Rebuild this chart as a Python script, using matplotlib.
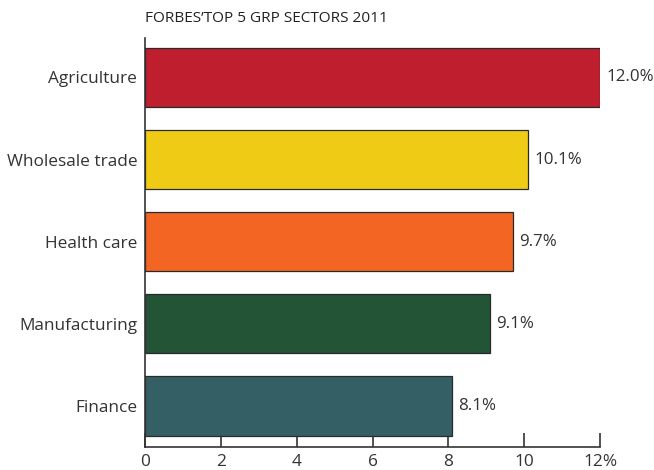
import matplotlib
matplotlib.use("Agg")
import matplotlib.pyplot as plt

categories = ["Agriculture", "Wholesale trade", "Health care", "Manufacturing", "Finance"]
values = [12.0, 10.1, 9.7, 9.1, 8.1]
colors = ["#BE1E2D", "#EFCB16", "#F26522", "#235436", "#335F65"]
xticks = [0, 2, 4, 6, 8, 10, 12]
xticklabels = ["0", "2", "4", "6", "8", "10", "12%"]
title = "FORBES\u2019TOP 5 GRP SECTORS 2011"

plt.rcParams["font.family"] = ["Open Sans", "DejaVu Sans"]
txt = "#333333"

fig = plt.figure(figsize=(6.54, 4.70), dpi=100)
ax = fig.add_axes([145/654, 1-447/470, (600-145)/654, (447-38)/470])

n = len(categories)
ypos = list(range(n))[::-1]
ax.barh(ypos, values, height=0.72, color=colors, edgecolor="#2a2a2a", linewidth=0.9, zorder=2)
for y, v in zip(ypos, values):
    ax.text(v + 0.17, y, f"{v:.1f}%", va="center", ha="left", fontsize=12.2, color=txt)

ax.set_xlim(0, 12)
ax.set_ylim(-0.5, 4.48)
ax.set_yticks(ypos)
ax.set_yticklabels(categories, fontsize=12.4, color=txt)
ax.set_xticks(xticks)
ax.set_xticklabels(xticklabels, fontsize=12.4, color=txt)
ax.tick_params(axis="y", length=0, pad=5.5)
ax.tick_params(axis="x", direction="in", length=10, width=1.2, color="#333333", pad=5)
for s in ["top", "right"]:
    ax.spines[s].set_visible(False)
ax.spines["left"].set_color("#333333")
ax.spines["left"].set_linewidth(1.2)
ax.spines["bottom"].set_color("#333333")
ax.spines["bottom"].set_linewidth(1.2)

fig.text(145/654, 1-18/470, title, ha="left", va="center", fontsize=11.1, color="#222222")

fig.savefig("out.png", dpi=100)
